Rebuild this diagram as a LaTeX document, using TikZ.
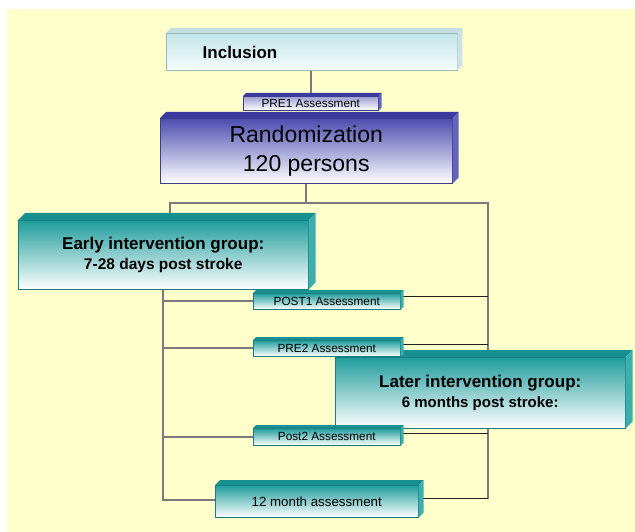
\documentclass[tikz,border=0pt]{standalone}
\usepackage{fontspec}
\setmainfont{Liberation Sans}
\usetikzlibrary{calc}
\definecolor{bgyellow}{HTML}{FFFFCC}
\definecolor{tealA}{HTML}{1F9C9C}
\definecolor{tealTop}{HTML}{199090}
\definecolor{tealSide}{HTML}{3CAEAE}
\definecolor{blueA}{HTML}{4C4CB0}
\definecolor{blueTop}{HTML}{3A3AA0}
\definecolor{blueSide}{HTML}{6464BC}
\definecolor{incA}{HTML}{C2E6EA}
\definecolor{incTop}{HTML}{C6DEE0}
\definecolor{incSide}{HTML}{CCE2E4}
\definecolor{wire}{HTML}{7A7A7A}
\definecolor{thinwire}{HTML}{202020}
\pgfdeclarelayer{back}
\pgfdeclarelayer{wires}
\pgfsetlayers{back,wires,main}
\newcommand\drawfaces[4]{%
  \fill[#3] (#1.north west) -- ++(#2,-#2) -- ($(#1.north east)+(#2,-#2)$) -- (#1.north east) -- cycle;
  \fill[#4] (#1.north east) -- ++(#2,-#2) -- ($(#1.south east)+(#2,-#2)$) -- (#1.south east) -- cycle;
}
\tikzset{
  front/.style={rectangle, inner sep=0pt, anchor=north west, align=center},
  tealbox/.style={front, top color=tealA, bottom color=white, draw=tealA!80!black, line width=0.5pt},
  bluebox/.style={front, top color=blueA, bottom color=white, draw=blueA!80!black, line width=0.5pt},
  smallblue/.style={front, top color=blueA!55, bottom color=white, draw=blueA!80!black, line width=0.5pt},
  incbox/.style={front, top color=incA, bottom color=incA!15, draw=incA!80!black, line width=0.3pt},
  wireline/.style={draw=wire, line width=2pt},
  thinline/.style={draw=thinwire, line width=0.9pt},
  smalltext/.style={font=\fontsize{11.8}{13}\selectfont},
}
\begin{document}
\begin{tikzpicture}[x=1pt,y=-1pt]
\useasboundingbox (0,0) rectangle (635,532);
\begin{pgfonlayer}{back}
  \fill[white] (0,0) rectangle (635,532);
  \fill[bgyellow] (7,9) rectangle (635,532);
\end{pgfonlayer}

% Inclusion
\node[incbox, minimum width=291pt, minimum height=37pt] (inclusion) at (166,33) {};
\drawfaces{inclusion}{5}{incTop}{incSide}
\node[font=\bfseries\fontsize{17}{20}\selectfont] (inctext) at (240,52) {Inclusion};

% PRE1
\node[smallblue, minimum width=135pt, minimum height=14pt, smalltext] (pre1) at (243,96) {PRE1 Assessment};
\drawfaces{pre1}{3}{blueTop}{blueSide}

% Randomization
\node[bluebox, minimum width=292pt, minimum height=65pt, font=\fontsize{23}{29}\selectfont] (rand) at (160,118) {Randomization\\120 persons};
\drawfaces{rand}{6}{blueTop}{blueSide}

% Early
\node[tealbox, minimum width=290pt, minimum height=69pt, font=\bfseries\fontsize{17}{20}\selectfont] (early) at (18,220) {Early intervention group:\\{\fontsize{15.5}{20}\selectfont 7-28 days post stroke}};
\drawfaces{early}{7}{tealTop}{tealSide}

% POST1
\node[tealbox, minimum width=147pt, minimum height=16pt, smalltext] (post1) at (253,293) {POST1 Assessment};
\drawfaces{post1}{3}{tealTop}{tealSide}

% Later
\node[tealbox, minimum width=290pt, minimum height=71pt, font=\bfseries\fontsize{17}{20}\selectfont] (later) at (335,357) {Later intervention group:\\{\fontsize{15}{20}\selectfont 6 months post stroke:}};
\drawfaces{later}{7}{tealTop}{tealSide}

% PRE2
\node[tealbox, minimum width=147pt, minimum height=16pt, smalltext] (pre2) at (253,340) {PRE2 Assessment};
\drawfaces{pre2}{3}{tealTop}{tealSide}

% Post2
\node[tealbox, minimum width=147pt, minimum height=17pt, smalltext] (post2) at (253,428) {Post2 Assessment};
\drawfaces{post2}{3}{tealTop}{tealSide}

% 12 month
\node[tealbox, minimum width=203pt, minimum height=32pt, font=\fontsize{13.3}{15}\selectfont] (twelve) at (215,485) {12 month assessment};
\drawfaces{twelve}{5}{tealTop}{tealSide}

% connectors
\begin{pgfonlayer}{wires}
  \coordinate (ltop) at (170,203);
  \coordinate (rtop) at (488,203);
  \coordinate (lbot) at (163,500);
  \draw[wireline] (pre1.north |- inclusion.south) -- (pre1.north);
  \draw[wireline] (rand.south) -- (rand.south |- rtop);
  \draw[wireline] (ltop |- early.north) -- (ltop) -- (rtop) -- ($(rtop |- twelve.east)+(0,-2.5)$);
  \draw[wireline] (lbot |- early.south) -- (lbot) -- (lbot -| twelve.west);
  \draw[wireline] (lbot |- post1.west) -- (post1.west);
  \draw[wireline] (lbot |- pre2.west) -- (pre2.west);
  \draw[wireline] (lbot |- post2.west) -- (post2.west);
  \draw[thinline] ($(post1.east)+(0,-4.5)$) coordinate (p1r) -- (p1r -| rtop);
  \draw[thinline] ($(pre2.east)+(0,-4)$) coordinate (p2r) -- (p2r -| rtop);
  \draw[thinline] ($(post2.east)+(0,-3)$) coordinate (p3r) -- (p3r -| rtop);
  \draw[thinline] ($(twelve.east)+(0,-2.5)$) coordinate (p4r) -- (p4r -| rtop);
\end{pgfonlayer}
\end{tikzpicture}
\end{document}
